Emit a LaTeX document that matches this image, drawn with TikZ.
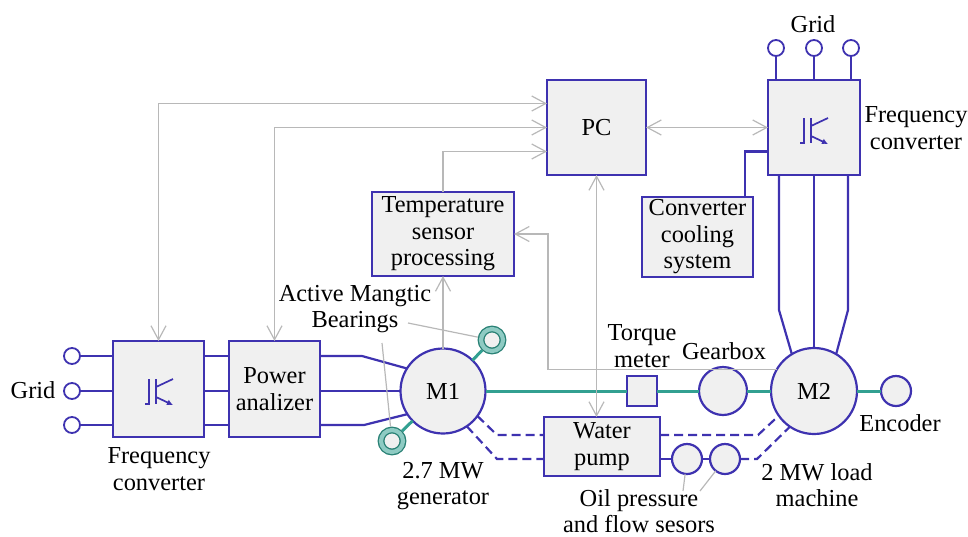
\documentclass[tikz,border=0pt]{standalone}
\usepackage{fontspec}
\setmainfont{Liberation Serif}
\usetikzlibrary{arrows.meta}
\definecolor{powerblue}{RGB}{62,50,176}
\definecolor{shaftteal}{RGB}{50,160,145}
\definecolor{signalgray}{RGB}{184,184,184}
\definecolor{boxgray}{RGB}{240,240,240}

\begin{document}
\begin{tikzpicture}[x=1pt,y=-1pt]
    % Define styles
    \tikzset{
        unit/.style={rectangle, draw=powerblue, line width=2.2pt, fill=boxgray, outer sep=0pt, inner sep=0pt, align=center},
        machine/.style={circle, draw=powerblue, line width=2.2pt, fill=boxgray, outer sep=0pt, inner sep=0pt, align=center},
        terminal/.style={circle, draw=powerblue, line width=1.8pt, fill=white, minimum size=16pt, outer sep=0pt, inner sep=0pt},
        bearing/.style={circle, draw=shaftteal!80!black, line width=1.3pt, double=shaftteal!55, double distance=4.2pt, fill=boxgray, minimum size=22pt, outer sep=3.4pt, inner sep=0pt},
        caption/.style={align=center, inner sep=0pt},
        wire/.style={draw=powerblue, line width=2.2pt},
        cooling/.style={wire, dash pattern=on 9pt off 5pt},
        shaft/.style={draw=shaftteal, line width=3pt},
        signal/.style={draw=signalgray, line width=1.2pt, {Straight Barb[length=14pt,width=15pt]}-{Straight Barb[length=14pt,width=15pt]}},
        signalto/.style={draw=signalgray, line width=1.2pt, -{Straight Barb[length=14pt,width=15pt]}},
        leader/.style={draw=signalgray, line width=1.2pt},
        igbt/.pic={
            \draw[powerblue, line width=1.7pt] (-14,13) -- (-10,13) -- (-10,-12);
            \draw[powerblue, line width=1.7pt] (-3,-12) -- (-3,13);
            \draw[powerblue, line width=1.7pt] (-3,-4) -- (14,-12);
            \draw[powerblue, line width=1.7pt, -{Latex[length=6pt,width=6pt]}] (-3,6) -- (14,14);
        }
    }
    \fontsize{24.4}{26.5}\selectfont
    \useasboundingbox (0,0) rectangle (968,536);

    % Create blocks
    \node (convl) [unit, minimum width=91pt, minimum height=96pt] at (158.5,389) {};
    \node (power) [unit, minimum width=91pt, minimum height=96pt] at (274.5,389) {Power\\analizer};
    \node (temp) [unit, minimum width=142pt, minimum height=84pt] at (443,234) {Temperature\\sensor\\processing};
    \node (pc) [unit, minimum width=99pt, minimum height=95pt] at (596.5,127.5) {PC};
    \node (convr) [unit, minimum width=92pt, minimum height=95pt] at (814,127.5) {};
    \node (cool) [unit, minimum width=111pt, minimum height=80pt] at (697.5,237) {\rule{0pt}{4pt}Converter\\cooling\\system};
    \node (water) [unit, minimum width=116pt, minimum height=59pt] at (602,446.5) {Water\\pump};
    \node (torque) [unit, minimum size=30pt] at (642,391) {};

    % Machines and sensors
    \node (m1) [machine, minimum size=85pt] at (443,391) {M1};
    \node (m2) [machine, minimum size=86pt] at (814,391) {M2};
    \node (gear) [machine, minimum size=48pt] at (723,391) {};
    \node (enc) [machine, minimum size=30pt] at (896,391) {};
    \node (oila) [machine, minimum size=30pt] at (687,459) {};
    \node (oilb) [machine, minimum size=30pt] at (725,459) {};
    \node (brga) [bearing] at (492,340) {};
    \node (brgb) [bearing] at (392,441) {};

    % Grid terminals
    \node (gl1) [terminal] at (72,356) {};
    \node (gl2) [terminal] at (72,391) {};
    \node (gl3) [terminal] at (72,425) {};
    \node (gr1) [terminal] at (776,48) {};
    \node (gr2) [terminal] at (814,48) {};
    \node (gr3) [terminal] at (851,48) {};

    % Transistor symbols
    \pic at (159,391) {igbt};
    \pic at (814,130) {igbt};

    % Labels
    \node (lgridl) [caption] at (33,390) {Grid};
    \node (lconvl) [caption] at (159,469) {Frequency\\converter};
    \node (lamb) [caption] at (355,309) {Active Mangtic\\Bearings};
    \node (lgen) [caption] at (443,486) {2.7 MW\\generator};
    \node (ltorque) [caption] at (642,346) {Torque\\meter};
    \node (lgear) [caption] at (724,351) {Gearbox};
    \node (lenc) [caption] at (900,423) {Encoder};
    \node (lload) [caption] at (817,485) {2 MW load\\machine};
    \node (loil) [caption] at (639,511) {Oil pressure\\and flow sesors};
    \node (lgridr) [caption] at (813,24) {Grid};
    \node (lconvr) [caption] at (916,128) {Frequency\\converter};

    % Turning points
    \coordinate (busl) at (362,356);
    \coordinate (busr) at (364,425);
    \coordinate (drva) at (779,310);
    \coordinate (drvb) at (848,310);
    \coordinate (wpa) at (497,435);
    \coordinate (wpb) at (497,459);
    \coordinate (wpc) at (758,435);
    \coordinate (wpd) at (757,459);
    \coordinate (fbk) at (548,300);
    \coordinate (ambr) at (408,323);
    \coordinate (ambl) at (382,343);
    \coordinate (oiltipa) at (683,491);
    \coordinate (oiltipb) at (700,491);

    % Draw power lines
    \foreach \g in {gl1,gl2,gl3} {
        \draw [wire] (\g) -- (convl.west |- \g);
        \draw [wire] (convl.east |- \g) -- (power.west |- \g);
    }
    \draw [wire] (power.east |- gl2) -- (m1.west |- gl2);
    \draw [wire] (power.east |- busl) -- (busl) -- (m1.148);
    \draw [wire] (power.east |- busr) -- (busr) -- (m1.213);
    \foreach \g in {gr1,gr2,gr3} {
        \draw [wire] (\g) -- (\g |- convr.north);
    }
    \draw [wire] (drva |- convr.south) -- (drva) -- (m2.121);
    \draw [wire] (convr.south) -- (m2.north);
    \draw [wire] (drvb |- convr.south) -- (drvb) -- (m2.59);
    \draw [wire] ([xshift=47.5pt]cool.north) |- ([yshift=-24pt]convr.west);

    % Draw shaft
    \draw [shaft] (m1) -- (torque);
    \draw [shaft] (torque) -- (gear);
    \draw [shaft] (gear) -- (m2);
    \draw [shaft] (m2) -- (enc);
    \draw [shaft] (m1) -- (brga);
    \draw [shaft] (m1) -- (brgb);

    % Draw cooling circuit
    \draw [cooling] (m1.-36) -- (wpa) -- (water.west |- wpa);
    \draw [cooling] (m1.-56) -- (wpb) -- (water.west |- wpb);
    \draw [cooling] (water.east |- wpc) -- (wpc) -- (m2.215);
    \draw [wire] (water.east |- oila) -- (oila);
    \draw [wire] (oila) -- (oilb);
    \draw [cooling] (oilb) -- (wpd) -- (m2.236);

    % Draw signals
    \draw [signal] (convl.north) |- ([yshift=24pt]pc.west);
    \draw [signal] (power.north) |- (pc.west);
    \draw [signalto] (temp.north) |- ([yshift=-24pt]pc.west);
    \draw [signalto] (m1.north) -- (temp.south);
    \draw [signalto] (m2.150) -| (fbk) |- (temp.east);
    \draw [signal] (pc.south) -- (pc.south |- water.north);
    \draw [signal] (pc.east) -- (convr.west);

    % Draw leaders
    \draw [leader] (ambr) -- (brga);
    \draw [leader] (ambl) -- (brgb);
    \draw [leader] (oila) -- (oiltipa);
    \draw [leader] (oilb) -- (oiltipb);
\end{tikzpicture}
\end{document}
